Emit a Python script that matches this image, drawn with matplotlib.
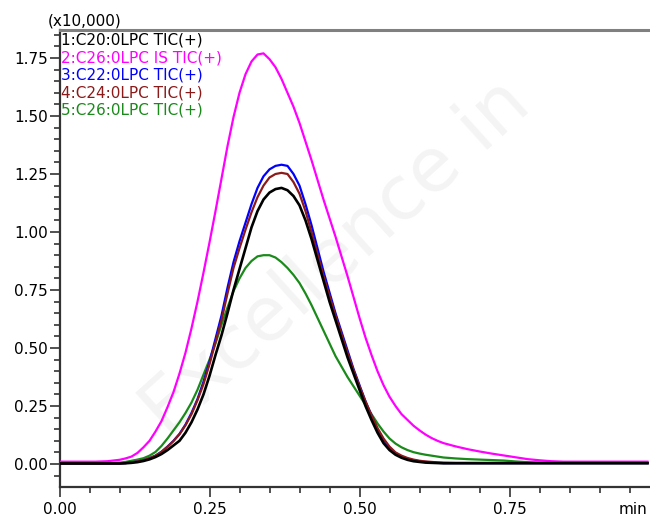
import matplotlib
matplotlib.use("Agg")
import matplotlib.pyplot as plt
from matplotlib.ticker import MultipleLocator, FixedLocator

# retention time grid (min): coarse at the tails, fine across the peaks
time_head = [0.00, 0.02, 0.04, 0.06, 0.08]
time_mid = [round(0.10 + 0.01 * k, 2) for k in range(55)]          # 0.10 .. 0.64
time_tail = [round(0.66 + 0.02 * k, 2) for k in range(17)]         # 0.66 .. 0.98
time_min = time_head + time_mid + time_tail

# intensities (x10,000)
c20_head = [0.002, 0.002, 0.002, 0.002, 0.002]
c20_mid = [0.002, 0.003, 0.005, 0.008, 0.013, 0.02, 0.03, 0.043, 0.06, 0.08,
           0.10, 0.135, 0.18, 0.235, 0.30, 0.38, 0.47, 0.555, 0.65, 0.75,
           0.84, 0.93, 1.02, 1.09, 1.14, 1.17, 1.185, 1.19, 1.18, 1.155,
           1.115, 1.05, 0.97, 0.88, 0.79, 0.70, 0.62, 0.54, 0.46, 0.39,
           0.32, 0.25, 0.19, 0.135, 0.09, 0.06, 0.04, 0.027, 0.018, 0.012,
           0.009, 0.006, 0.005, 0.004, 0.003]
c20_tail = [0.003] * 17

c26is_head = [0.010, 0.010, 0.010, 0.010, 0.012]
c26is_mid = [0.018, 0.024, 0.032, 0.048, 0.072, 0.10, 0.14, 0.185, 0.245, 0.31,
             0.39, 0.48, 0.585, 0.70, 0.825, 0.955, 1.09, 1.23, 1.37, 1.495,
             1.60, 1.68, 1.735, 1.765, 1.77, 1.745, 1.71, 1.66, 1.60, 1.54,
             1.47, 1.39, 1.31, 1.225, 1.14, 1.06, 0.98, 0.895, 0.81, 0.72,
             0.63, 0.545, 0.47, 0.40, 0.34, 0.29, 0.25, 0.215, 0.19, 0.165,
             0.145, 0.127, 0.112, 0.10, 0.09]
c26is_tail = [0.076, 0.064, 0.054, 0.045, 0.037, 0.029, 0.021, 0.016, 0.012, 0.010,
              0.010, 0.010, 0.010, 0.010, 0.010, 0.010, 0.010]

c22_head = [0.003, 0.003, 0.003, 0.003, 0.003]
c22_mid = [0.003, 0.004, 0.007, 0.011, 0.016, 0.025, 0.036, 0.053, 0.075, 0.10,
           0.13, 0.17, 0.22, 0.28, 0.355, 0.44, 0.54, 0.64, 0.76, 0.87,
           0.96, 1.04, 1.12, 1.19, 1.24, 1.27, 1.285, 1.29, 1.285, 1.25,
           1.20, 1.12, 1.03, 0.93, 0.83, 0.74, 0.65, 0.57, 0.49, 0.41,
           0.34, 0.27, 0.21, 0.15, 0.105, 0.07, 0.047, 0.032, 0.022, 0.016,
           0.012, 0.009, 0.007, 0.005, 0.004]
c22_tail = [0.004] * 17

c24_head = [0.003, 0.003, 0.003, 0.003, 0.003]
c24_mid = [0.003, 0.004, 0.007, 0.011, 0.016, 0.025, 0.036, 0.052, 0.074, 0.099,
           0.128, 0.167, 0.215, 0.275, 0.345, 0.43, 0.525, 0.62, 0.735, 0.845,
           0.93, 1.01, 1.085, 1.15, 1.20, 1.235, 1.25, 1.255, 1.25, 1.215,
           1.165, 1.09, 1.00, 0.905, 0.81, 0.725, 0.64, 0.56, 0.48, 0.405,
           0.335, 0.27, 0.21, 0.155, 0.11, 0.075, 0.05, 0.036, 0.026, 0.019,
           0.014, 0.011, 0.009, 0.007, 0.006]
c24_tail = [0.005] * 17

c26_head = [0.003, 0.003, 0.003, 0.003, 0.004]
c26_mid = [0.006, 0.009, 0.014, 0.019, 0.025, 0.036, 0.052, 0.078, 0.11, 0.145,
           0.18, 0.22, 0.265, 0.32, 0.385, 0.45, 0.52, 0.60, 0.675, 0.745,
           0.80, 0.845, 0.875, 0.895, 0.90, 0.90, 0.89, 0.87, 0.845, 0.815,
           0.78, 0.735, 0.685, 0.63, 0.575, 0.52, 0.465, 0.42, 0.375, 0.335,
           0.295, 0.255, 0.215, 0.175, 0.14, 0.11, 0.088, 0.072, 0.06, 0.051,
           0.045, 0.04, 0.036, 0.032, 0.028]
c26_tail = [0.024, 0.021, 0.019, 0.017, 0.015, 0.011, 0.008, 0.006, 0.005,
            0.005, 0.005, 0.005, 0.005, 0.005, 0.005, 0.005, 0.005]

c20 = c20_head + c20_mid + c20_tail
c26_is = c26is_head + c26is_mid + c26is_tail
c22 = c22_head + c22_mid + c22_tail
c24 = c24_head + c24_mid + c24_tail
c26 = c26_head + c26_mid + c26_tail

labels = ["1:C20:0LPC TIC(+)", "2:C26:0LPC IS TIC(+)", "3:C22:0LPC TIC(+)",
          "4:C24:0LPC TIC(+)", "5:C26:0LPC TIC(+)"]
colors = ["#000000", "#ff00ff", "#0000ff", "#8b1a1a", "#1a8a1a"]
series = [c20, c26_is, c22, c24, c26]

x_ticks = [0.00, 0.25, 0.50, 0.75]
x_ticklabels = ["0.00", "0.25", "0.50", "0.75"]
y_ticks = [0.00, 0.25, 0.50, 0.75, 1.00, 1.25, 1.50, 1.75]

plt.rcParams['font.family'] = ['DejaVu Sans']
W, H = 650, 518
fig = plt.figure(figsize=(W / 100, H / 100), dpi=100)
ax = fig.add_axes([59.5 / W, 1 - 487 / H, 1 - 59.5 / W, (487 - 30) / H])

# faint watermark
ax.text(0.47, 0.5, "Excellence in", transform=ax.transAxes, rotation=42,
        fontsize=54, color="#f4f4f4", ha="center", va="center", zorder=0)

order = [4, 1, 2, 3, 0]
for z, i in enumerate(order):
    lw = 1.9 if i == 0 else 1.6
    ax.plot(time_min, series[i], color=colors[i], lw=lw, zorder=2 + z,
            solid_joinstyle="round")

ax.set_xlim(0, (650 - 59.5) / 600)
ax.set_ylim((464 - 487) / 232, (464 - 30) / 232)

ax.xaxis.set_major_locator(FixedLocator(x_ticks))
ax.set_xticklabels(x_ticklabels)
ax.xaxis.set_minor_locator(MultipleLocator(0.05))
ax.yaxis.set_major_locator(FixedLocator(y_ticks))
ax.set_yticklabels([f"{v:.2f}" for v in y_ticks])
ax.yaxis.set_minor_locator(MultipleLocator(0.05))

ax.tick_params(which="major", direction="out", length=7, width=1.2,
               color="#333333", labelsize=11, pad=1.5)
ax.tick_params(which="minor", direction="out", length=4, width=1.2, color="#333333")
ax.tick_params(axis="x", which="major", pad=4)

for s in ["left", "bottom"]:
    ax.spines[s].set_color("#333333")
    ax.spines[s].set_linewidth(1.6)
ax.spines["right"].set_visible(False)
ax.spines["top"].set_color("#808080")
ax.spines["top"].set_linewidth(2.2)

ax.text(0.932, -0.033, "min", transform=ax.get_xaxis_transform(),
        fontsize=11, ha="left", va="top")

fig.text(48 / W, 1 - 21 / H, "(x10,000)", fontsize=11, ha="left", va="center")

ys = [40, 57.5, 75, 92.5, 110]
for lab, c, yy in zip(labels, colors, ys):
    fig.text(61 / W, 1 - yy / H, lab, fontsize=11, color=c, ha="left", va="center")

fig.savefig("out.png", dpi=100)
